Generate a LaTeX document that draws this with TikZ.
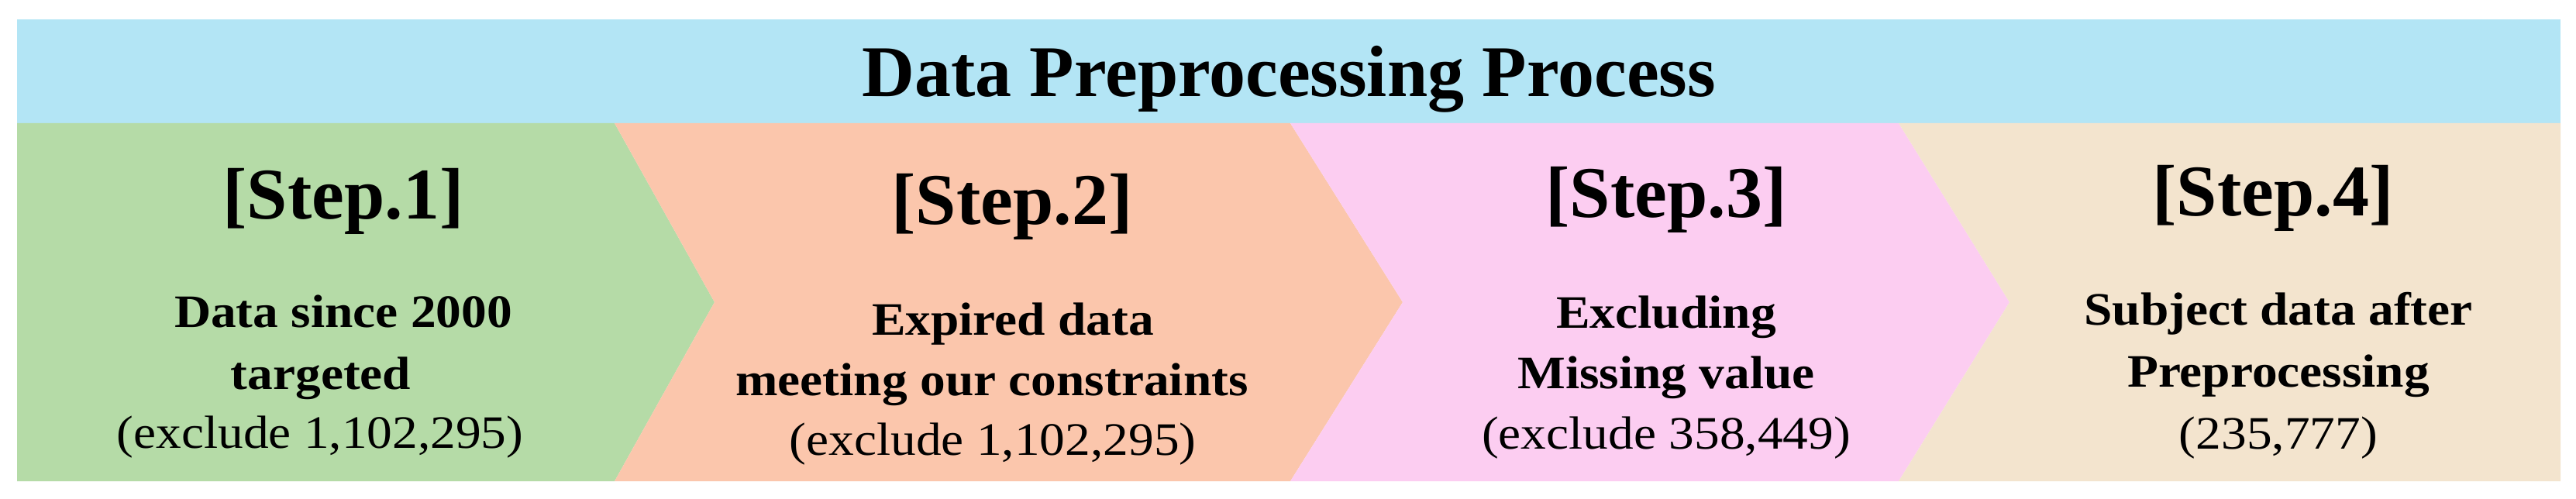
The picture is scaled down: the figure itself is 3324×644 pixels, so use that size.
\documentclass[tikz,border=0pt]{standalone}
\usepackage{fontspec}
\setmainfont{Liberation Serif}
\definecolor{bandblue}{HTML}{B3E5F5}
\definecolor{stepgreen}{HTML}{B5DBA7}
\definecolor{stepsalmon}{HTML}{FBC6AC}
\definecolor{steppink}{HTML}{FCCDF1}
\definecolor{stepbeige}{HTML}{F3E4CE}
\newcommand\widerbody[1]{\scalebox{1.09}[1]{#1}}
\tikzset{
  titletext/.style={anchor=base, inner sep=0pt, font=\fontsize{94}{100}\selectfont\bfseries},
  steptext/.style={anchor=base, inner sep=0pt, font=\fontsize{94}{100}\selectfont\bfseries},
  bodytext/.style={anchor=base, inner sep=0pt, font=\fontsize{60}{66}\selectfont\bfseries},
  counttext/.style={anchor=base, inner sep=0pt, font=\fontsize{60}{66}\selectfont},
}
\begin{document}
\begin{tikzpicture}[x=1pt, y=-1pt]
\useasboundingbox (0,0) rectangle (3324,644);
% band and chevrons
\fill[bandblue] (22,25) rectangle (3304,159);
\fill[stepgreen] (22,159) -- (793,159) -- (922,390) -- (793,621) -- (22,621) -- cycle;
\fill[stepsalmon] (793,159) -- (1665,159) -- (1810,390) -- (1665,621) -- (793,621) -- (922,390) -- cycle;
\fill[steppink] (1665,159) -- (2450,159) -- (2593,390) -- (2450,621) -- (1665,621) -- (1810,390) -- cycle;
\fill[stepbeige] (2450,159) -- (3304,159) -- (3304,621) -- (2450,621) -- (2593,390) -- cycle;
% title
\node[titletext] (title) at (1663,125) {Data Preprocessing Process};
% step 1
\node[steptext] (s1) at (443,283) {[Step.1]};
\node[bodytext] (s1a) at (443,422) {\widerbody{Data since 2000}};
\node[bodytext] (s1b) at (414,502) {\widerbody{targeted}};
\node[counttext] (s1c) at (413,578) {\widerbody{(exclude 1,102,295)}};
% step 2
\node[steptext] (s2) at (1306,290) {[Step.2]};
\node[bodytext] (s2a) at (1307,432) {\widerbody{Expired data}};
\node[bodytext] (s2b) at (1280,510) {\widerbody{meeting our constraints}};
\node[counttext] (s2c) at (1281,587) {\widerbody{(exclude 1,102,295)}};
% step 3
\node[steptext] (s3) at (2150,280) {[Step.3]};
\node[bodytext] (s3a) at (2150,423) {\widerbody{Excluding}};
\node[bodytext] (s3b) at (2150,501) {\widerbody{Missing value}};
\node[counttext] (s3c) at (2150,579) {\widerbody{(exclude 358,449)}};
% step 4
\node[steptext] (s4) at (2933,279) {[Step.4]};
\node[bodytext] (s4a) at (2940,419) {\widerbody{Subject data after}};
\node[bodytext] (s4b) at (2940,499) {\widerbody{Preprocessing}};
\node[counttext] (s4c) at (2940,579) {\widerbody{(235,777)}};
\end{tikzpicture}
\end{document}
